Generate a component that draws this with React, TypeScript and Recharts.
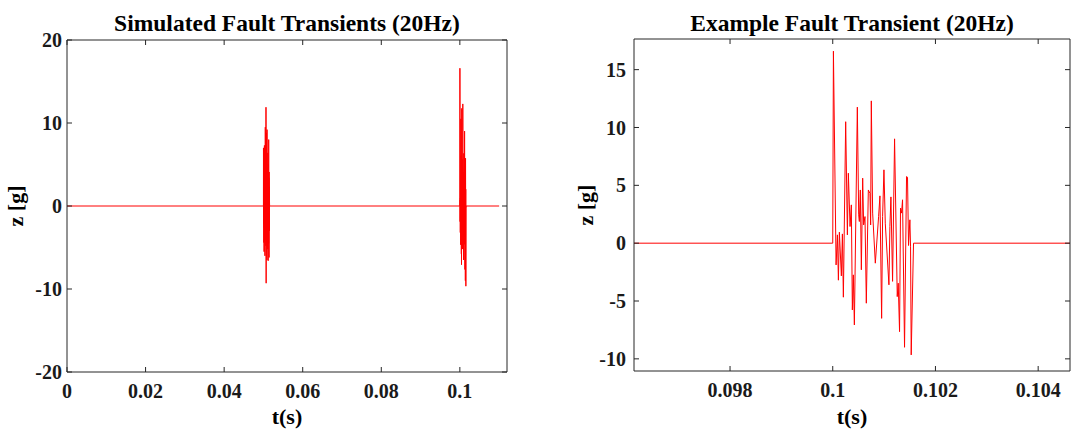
import React from 'react';
import { LineChart, Line, XAxis, YAxis, Label } from 'recharts';

// sample times inside one fault burst, microseconds after the onset
const burstOffsetsUs = [
  0, 13, 65, 91, 110, 129, 168, 188, 207, 252, 285, 304, 337, 362, 382, 401, 421, 479, 505,
  518, 537, 557, 583, 602, 628, 654, 693, 725, 738, 751, 777, 829, 893, 919, 952, 971, 997,
  1023, 1094, 1113, 1133, 1165, 1204, 1256, 1275, 1301, 1320, 1340, 1359, 1398, 1437, 1456,
  1476, 1502, 1515, 1528, 1573,
];

// acceleration z [g] of the first burst (t = 0.05 s)
const firstBurstZ = [
  0, 7.0, -2.1, 1.2, -4.4, 2.0, -5.5, 3.1, -2.6, 7.3, -1.4, 4.2, -3.8, 2.7, -6.0, 1.9, -4.1,
  9.5, -2.2, 3.5, -1.6, 6.1, -3.3, 2.4, -4.8, 11.9, -9.3, 5.4, 0.6, 8.8, -2.9, 3.6, -6.5, 9.2,
  -1.5, 4.7, -3.9, 2.2, -5.2, 6.4, -2.4, 3.0, -6.6, 5.0, -1.8, 2.9, -4.5, 8.0, -2.7, 3.4, -6.2,
  4.1, -1.1, 2.3, -3.0, 1.0, 0,
];

// acceleration z [g] of the second burst (t = 0.1 s), the one shown in detail
const secondBurstZ = [
  0, 16.6, -1.88, 0.72, -3.2, 0.95, -2.83, 0.8, -4.67, 10.5, 0.72, 6.05, 1.44, 3.31, -5.77,
  -2.74, -7.07, 11.76, 2.45, 1.87, 4.6, -2.3, 5.62, 1.58, 2.3, -5.19, 4.6, 4.3, 1.58, 12.3, 2.6,
  -1.73, 2.3, 4.09, -6.5, 2.3, 6.34, 1.73, -3.6, 1.44, 4.0, -3.3, 9.02, -4.62, -3.46, -7.65,
  3.03, 2.6, 3.75, -9.0, 5.76, 5.7, -0.2, 2.02, -0.26, -9.66, 0,
];

const burstOnsets = [0.05, 0.1];
const recordEnd = 0.11;

const overviewXTicks = [0, 0.02, 0.04, 0.06, 0.08, 0.1];
const overviewYTicks = [-20, -10, 0, 10, 20];
const detailXTicks = [0.098, 0.1, 0.102, 0.104];
const detailYTicks = [-10, -5, 0, 5, 10, 15];

const overviewXDomain = [0, 0.112];
const overviewYDomain = [-20, 20];
const detailXDomain = [0.09613, 0.10462];
const detailYDomain = [-11.05, 17.65];

type Pt = { t: number; z: number };

const burst = (onset: number, values: number[]): Pt[] =>
  burstOffsetsUs.map((us, i) => ({ t: onset + us * 1e-6, z: values[i] }));

const overviewData: Pt[] = [
  { t: 0, z: 0 },
  ...burst(burstOnsets[0], firstBurstZ),
  ...burst(burstOnsets[1], secondBurstZ),
  { t: recordEnd, z: 0 },
];

const detailData: Pt[] = [
  { t: detailXDomain[0], z: 0 },
  ...burst(burstOnsets[1], secondBurstZ),
  { t: detailXDomain[1], z: 0 },
];

const FONT = '"Liberation Serif", Tinos, "Times New Roman", serif';
const AXIS = '#262626';
const tickStyle = { fontFamily: FONT, fontSize: 20, fontWeight: 700, fill: '#1a1a1a' };
const titleStyle = { fontFamily: FONT, fontWeight: 700, fill: '#000' };

interface PanelProps {
  width: number;
  height: number;
  plotLeft: number;
  plotTop: number;
  plotRight: number;
  plotBottom: number;
  data: Pt[];
  xDomain: number[];
  yDomain: number[];
  xTicks: number[];
  yTicks: number[];
  title: string;
  yLabelX: number;
  yTickMargin: number;
}

const FaultPanel: React.FC<PanelProps> = (p) => {
  const yTitle = (props: any) => {
    const vb = props.viewBox;
    const cy = vb.y + vb.height / 2;
    return (
      <text
        x={p.yLabelX}
        y={cy}
        transform={`rotate(-90 ${p.yLabelX} ${cy})`}
        textAnchor="middle"
        dominantBaseline="central"
        fontFamily={FONT}
        style={{ ...titleStyle, fontSize: 22 }}
      >
        z [g]
      </text>
    );
  };
  const xTitle = (props: any) => {
    const vb = props.viewBox;
    return (
      <text
        x={vb.x + vb.width / 2}
        y={424}
        textAnchor="middle"
        fontFamily={FONT}
        style={{ ...titleStyle, fontSize: 22 }}
      >
        t(s)
      </text>
    );
  };
  const chartTitle = (props: any) => {
    const vb = props.viewBox;
    return (
      <text
        x={vb.x + vb.width / 2}
        y={31}
        textAnchor="middle"
        fontFamily={FONT}
        style={{ ...titleStyle, fontSize: 23.5 }}
      >
        {p.title}
      </text>
    );
  };

  return (
    <LineChart
      width={p.width}
      height={p.height}
      data={p.data}
      margin={{ top: p.plotTop - 1, right: p.width - p.plotRight - 1, bottom: 0, left: 0 }}
    >
      <XAxis
        xAxisId="b"
        dataKey="t"
        type="number"
        domain={p.xDomain}
        allowDataOverflow
        ticks={p.xTicks}
        tickFormatter={(v: number) => String(v)}
        height={p.height - p.plotBottom}
        tickSize={-5}
        tickMargin={17}
        stroke={AXIS}
        tick={tickStyle}
      >
        <Label content={xTitle} />
        <Label content={chartTitle} />
      </XAxis>
      <XAxis
        xAxisId="t"
        dataKey="t"
        orientation="top"
        type="number"
        domain={p.xDomain}
        allowDataOverflow
        ticks={p.xTicks}
        tickFormatter={() => ''}
        height={1}
        tickSize={-5}
        stroke={AXIS}
      />
      <YAxis
        yAxisId="l"
        type="number"
        domain={p.yDomain}
        allowDataOverflow
        ticks={p.yTicks}
        width={p.plotLeft}
        tickSize={-5}
        tickMargin={p.yTickMargin}
        stroke={AXIS}
        tick={tickStyle}
      >
        <Label content={yTitle} />
      </YAxis>
      <YAxis
        yAxisId="r"
        orientation="right"
        type="number"
        domain={p.yDomain}
        allowDataOverflow
        ticks={p.yTicks}
        tickFormatter={() => ''}
        width={1}
        tickSize={-5}
        stroke={AXIS}
      />
      {/* invisible copy so the top and right frame axes are drawn */}
      <Line
        xAxisId="t"
        yAxisId="r"
        type="linear"
        dataKey="z"
        stroke="none"
        dot={false}
        activeDot={false}
        legendType="none"
        isAnimationActive={false}
      />
      <Line
        xAxisId="b"
        yAxisId="l"
        type="linear"
        dataKey="z"
        stroke="#ff0000"
        strokeWidth={1}
        dot={false}
        activeDot={false}
        isAnimationActive={false}
      />
    </LineChart>
  );
};

export default function App() {
  return (
    <div
      style={{
        position: 'absolute',
        left: 0,
        top: 0,
        width: 1071,
        height: 429,
        background: '#fff',
        overflow: 'hidden',
      }}
    >
      <div style={{ position: 'absolute', left: 0, top: 0 }}>
        <FaultPanel
          width={540}
          height={429}
          plotLeft={67}
          plotTop={40}
          plotRight={507}
          plotBottom={372}
          data={overviewData}
          xDomain={overviewXDomain}
          yDomain={overviewYDomain}
          xTicks={overviewXTicks}
          yTicks={overviewYTicks}
          title="Simulated Fault Transients (20Hz)"
          yLabelX={15}
          yTickMargin={10}
        />
      </div>
      <div style={{ position: 'absolute', left: 560, top: 0 }}>
        <FaultPanel
          width={511}
          height={429}
          plotLeft={74}
          plotTop={39}
          plotRight={510}
          plotBottom={371}
          data={detailData}
          xDomain={detailXDomain}
          yDomain={detailYDomain}
          xTicks={detailXTicks}
          yTicks={detailYTicks}
          title="Example Fault Transient (20Hz)"
          yLabelX={25}
          yTickMargin={13}
        />
      </div>
    </div>
  );
}
